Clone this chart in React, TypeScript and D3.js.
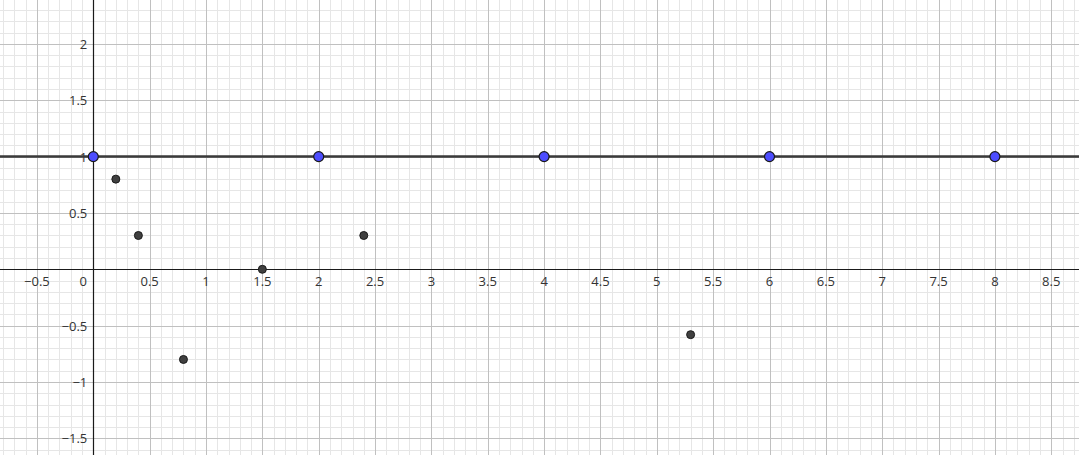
import React from "react";
import * as d3 from "d3";

const W = 1079;
const H = 455;

const blueX = [0, 2, 4, 6, 8];
const blueY = [1, 1, 1, 1, 1];
const darkX = [0.2, 0.4, 0.8, 1.5, 2.4, 5.3];
const darkY = [0.8, 0.3, -0.8, 0, 0.3, -0.58];
const lineY = 1;
const xTicks = [-0.5, 0, 0.5, 1, 1.5, 2, 2.5, 3, 3.5, 4, 4.5, 5, 5.5, 6, 6.5, 7, 7.5, 8, 8.5];
const yTicks = [-1.5, -1, -0.5, 0.5, 1, 1.5, 2];

const UNIT = 112.7;
const X0 = 93.3;
const Y0 = 269.3;

const fmt = (v: number) => (v < 0 ? "\u2212" + String(-v) : String(v));

export default function App() {
  const x = d3.scaleLinear().domain([0, 1]).range([X0, X0 + UNIT]);
  const y = d3.scaleLinear().domain([0, 1]).range([Y0, Y0 - UNIT]);
  const xMin = x.invert(0), xMax = x.invert(W);
  const yMin = y.invert(H), yMax = y.invert(0);
  const snap = (v: number) => Math.round(v) + 0.5;

  const minorX = d3.range(Math.ceil(xMin * 10), Math.floor(xMax * 10) + 1).map((i) => i / 10);
  const minorY = d3.range(Math.ceil(yMin * 10), Math.floor(yMax * 10) + 1).map((i) => i / 10);
  const majorX = d3.range(Math.ceil(xMin * 2), Math.floor(xMax * 2) + 1).map((i) => i / 2);
  const majorY = d3.range(Math.ceil(yMin * 2), Math.floor(yMax * 2) + 1).map((i) => i / 2);

  const font = "'Open Sans', 'Noto Sans', sans-serif";

  return (
    <svg width={W} height={H} style={{ position: "fixed", left: 0, top: 0, background: "#fff" }}>
      <g>
        {minorX.map((v, i) => (
          <line key={"mx" + i} x1={snap(x(v))} x2={snap(x(v))} y1={0} y2={H} stroke="#e6e6e6" strokeWidth={1} />
        ))}
        {minorY.map((v, i) => (
          <line key={"my" + i} y1={snap(y(v))} y2={snap(y(v))} x1={0} x2={W} stroke="#e6e6e6" strokeWidth={1} />
        ))}
        {majorX.map((v, i) => (
          <line key={"Mx" + i} x1={snap(x(v))} x2={snap(x(v))} y1={0} y2={H} stroke="#c0c0c0" strokeWidth={1} />
        ))}
        {majorY.map((v, i) => (
          <line key={"My" + i} y1={snap(y(v))} y2={snap(y(v))} x1={0} x2={W} stroke="#c0c0c0" strokeWidth={1} />
        ))}
      </g>
      <line x1={snap(x(0))} x2={snap(x(0))} y1={0} y2={H} stroke="#1a1a1a" strokeWidth={1.2} />
      <line y1={snap(y(0))} y2={snap(y(0))} x1={0} x2={W} stroke="#1a1a1a" strokeWidth={1.2} />
      <g fontFamily={font} fontSize={13} fill="#333">
        {xTicks.map((v, i) => (
          <text key={"xt" + i} x={v === 0 ? x(0) - 10 : x(v)} y={y(0) + 17} textAnchor="middle">
            {fmt(v)}
          </text>
        ))}
        {yTicks.map((v, i) => (
          <text key={"yt" + i} x={x(0) - 6} y={y(v) + 5} textAnchor="end">
            {fmt(v)}
          </text>
        ))}
      </g>
      <line x1={0} x2={W} y1={y(lineY)} y2={y(lineY)} stroke="#3a3a3a" strokeWidth={2.5} />
      {darkX.map((v, i) => (
        <circle key={"d" + i} cx={x(v)} cy={y(darkY[i])} r={4} fill="#404040" stroke="#1a1a1a" strokeWidth={1} />
      ))}
      {blueX.map((v, i) => (
        <circle key={"b" + i} cx={x(v)} cy={y(blueY[i])} r={5} fill="#4d4dff" stroke="#1a1a1a" strokeWidth={1.2} />
      ))}
    </svg>
  );
}
